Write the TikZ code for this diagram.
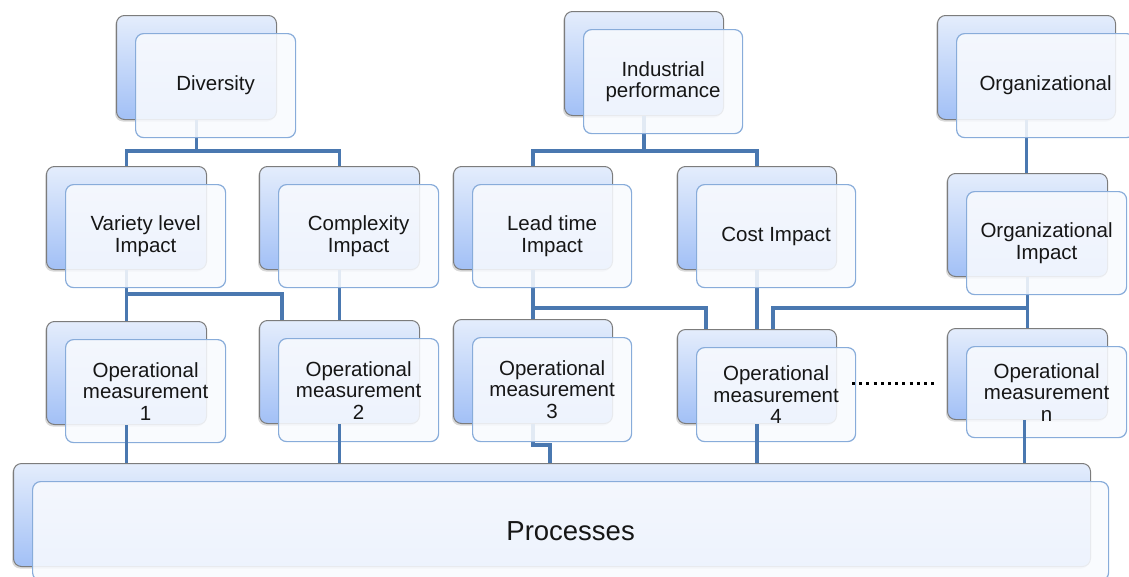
\documentclass[tikz,border=0pt]{standalone}
\usepackage{fontspec}
\setmainfont{Liberation Sans}
\usetikzlibrary{shadows}
\definecolor{connblue}{HTML}{4A78B0}
\definecolor{backtop}{HTML}{E4EDFC}
\definecolor{backbot}{HTML}{A2C0F6}
\definecolor{backline}{HTML}{7C7C7C}
\definecolor{frontfill}{HTML}{F8FAFE}
\definecolor{frontline}{HTML}{88ACDA}
\definecolor{txt}{HTML}{161616}
\tikzset{
  backbox/.style={draw=backline, line width=1pt, rounded corners=8pt,
    top color=backtop, bottom color=backbot, anchor=north west, inner sep=0pt,
    drop shadow={shadow xshift=-1.5pt, shadow yshift=-2pt, opacity=0.3}},
  frontbox/.style={draw=frontline, line width=1.2pt, rounded corners=8pt,
    fill=frontfill, fill opacity=0.88, text opacity=1, anchor=north west,
    inner sep=0pt, align=center, text=txt,
    font=\fontsize{20.5}{21.5}\selectfont},
  conn/.style={draw=connblue, line width=3.8pt},
  dotline/.style={draw=black, line width=3pt, dash pattern=on 3pt off 4.2pt}
}
\newcommand\mkback[5]{\node[backbox, minimum width=#4pt, minimum height=#5pt] (#1) at (#2,#3) {};}
\newcommand\mkfront[5]{\node[frontbox, minimum width=#3pt, minimum height=#4pt] (#1) at ([xshift=19pt,yshift=-18pt]#2.north west) {#5};}
\begin{document}
\begin{tikzpicture}[x=1pt,y=-1pt]
\useasboundingbox (0,0) rectangle (1129,576);
% back boxes
\mkback{divB}{116}{15}{160}{104}
\mkback{indB}{564}{11}{159}{104}
\mkback{orgB}{937}{15}{178}{104}
\mkback{varB}{46}{166}{160}{103}
\mkback{cpxB}{259}{166}{160}{103}
\mkback{leadB}{453}{166}{159}{103}
\mkback{costB}{677}{166}{159}{103}
\mkback{orgiB}{947}{173}{160}{103}
\mkback{opaB}{46}{321}{160}{103}
\mkback{opbB}{259}{320}{160}{103}
\mkback{opcB}{453}{319}{159}{104}
\mkback{opdB}{677}{329}{159}{94}
\mkback{opnB}{947}{328}{160}{91}
\mkback{procB}{13}{463}{1077}{103}
% junction coordinates
\coordinate (jtop) at (0,151);
\coordinate (jvar) at (282,294);
\coordinate (jlead) at (706,308);
\coordinate (jorg) at (773,308);
\coordinate (jopc) at (550,445);
% connectors beneath front boxes
\draw[conn] (divB.south) -- (divB.south |- jtop);
\draw[conn] (varB.north) |- (cpxB.north |- jtop) -- (cpxB.north);
\draw[conn] (indB.south) -- (indB.south |- jtop);
\draw[conn] (leadB.north) |- (costB.north |- jtop) -- (costB.north);
\draw[conn] (orgB.south) -- (orgB.south |- orgiB.north);
\draw[conn] (varB.south) -- (varB.south |- opaB.north);
\draw[conn] (varB.south) |- (jvar) -- (jvar |- opbB.north);
\draw[conn] (cpxB.south) -- (cpxB.south |- opbB.north);
\draw[conn] (leadB.south) -- (leadB.south |- opcB.north);
\draw[conn] (leadB.south) |- (jlead) -- (jlead |- opdB.north);
\draw[conn] (costB.south) -- (costB.south |- opdB.north);
\draw[conn] (orgiB.south) |- (jorg) -- (jorg |- opdB.north);
\draw[conn] (orgiB.south) -- (orgiB.south |- opnB.north);
\draw[conn] (opcB.south) |- (jopc) -- (jopc |- procB.north);
% front boxes
\mkfront{divF}{divB}{160}{104}{Diversity}
\mkfront{indF}{indB}{159}{104}{Industrial\\performance}
\mkfront{orgF}{orgB}{178}{104}{Organizational}
\mkfront{varF}{varB}{160}{103}{Variety level\\Impact}
\mkfront{cpxF}{cpxB}{160}{103}{Complexity\\Impact}
\mkfront{leadF}{leadB}{159}{103}{Lead time\\Impact}
\mkfront{costF}{costB}{159}{103}{Cost Impact}
\mkfront{orgiF}{orgiB}{160}{103}{Organizational\\Impact}
\mkfront{opaF}{opaB}{160}{103}{Operational\\measurement\\1}
\mkfront{opbF}{opbB}{160}{103}{Operational\\measurement\\2}
\mkfront{opcF}{opcB}{159}{104}{Operational\\measurement\\3}
\mkfront{opdF}{opdB}{159}{94}{Operational\\measurement\\4}
\mkfront{opnF}{opnB}{160}{91}{Operational\\measurement\\n}
\node[frontbox, minimum width=1076pt, minimum height=99pt,
  font=\fontsize{27.5}{30}\selectfont] (procF)
  at ([xshift=19pt,yshift=-18pt]procB.north west) {Processes};
% connectors over front boxes
\draw[conn] (opaB.south) -- (opaB.south |- procB.north);
\draw[conn] (opbB.south) -- (opbB.south |- procB.north);
\draw[conn] (opdB.south) -- (opdB.south |- procB.north);
\draw[conn] ([xshift=-3pt]opnB.south) -- ([xshift=-3pt]opnB.south |- procB.north);
% dotted continuation
\coordinate (dotA) at (852,383);
\coordinate (dotB) at (934,383);
\draw[dotline] (dotA) -- (dotB);
\end{tikzpicture}
\end{document}
